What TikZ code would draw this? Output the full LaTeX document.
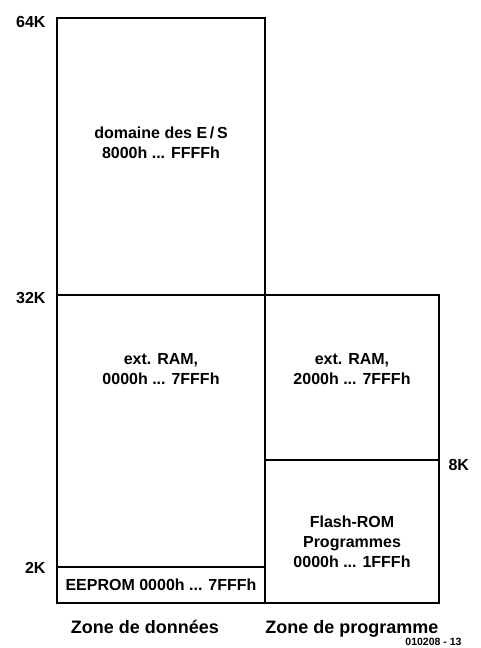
\documentclass[tikz,border=0pt]{standalone}
\usepackage{fontspec}
\setmainfont{Liberation Sans}
\usetikzlibrary{positioning}
\tikzset{
  region/.style={draw, line width=1.5pt},
  label/.style={font=\fontsize{16}{20}\selectfont\bfseries, align=center},
  kmark/.style={font=\fontsize{16}{19}\selectfont\bfseries, anchor=east},
  zone/.style={font=\fontsize{18}{21}\selectfont\bfseries, anchor=base}
}
\begin{document}
\begin{tikzpicture}[x=1pt, y=-1pt]
  \useasboundingbox (0,0) rectangle (480,648);

  % Memory regions
  \draw[region] (57,18) rectangle (265,295);
  \draw[region] (57,295) rectangle (265,603);
  \draw[region] (57,567) -- (265,567);
  \draw[region] (265,295) rectangle (439,603);
  \draw[region] (265,460) -- (439,460);

  % Region texts
  \node[label] (io)    at (161,143) {domaine des E\,/\,S\\8000h ... FFFFh};
  \node[label] (dram)  at (161,369) {ext. RAM,\\0000h ... 7FFFh};
  \node[label] (eep)   at (161,585) {EEPROM 0000h ... 7FFFh};
  \node[label] (pram)  at (352,369) {ext. RAM,\\2000h ... 7FFFh};
  \node[label] (flash) at (352,542) {Flash-ROM\\Programmes\\0000h ... 1FFFh};

  % Address marks
  \node[kmark] (k64) at (49,22)  {64K};
  \node[kmark] (k32) at (49,298) {32K};
  \node[kmark] (k2)  at (49,568) {2K};
  \node[kmark, anchor=west] (k8) at (445,465) {8K};

  % Zones
  \node[zone] (zdata) at (145,633) {Zone de donn\'ees};
  \node[zone] (zprog) at (352,633) {Zone de programme};
  \node[font=\fontsize{10.5}{11}\selectfont\bfseries, anchor=base east] (ref) at (465,645) {010208 - 13};
\end{tikzpicture}
\end{document}
